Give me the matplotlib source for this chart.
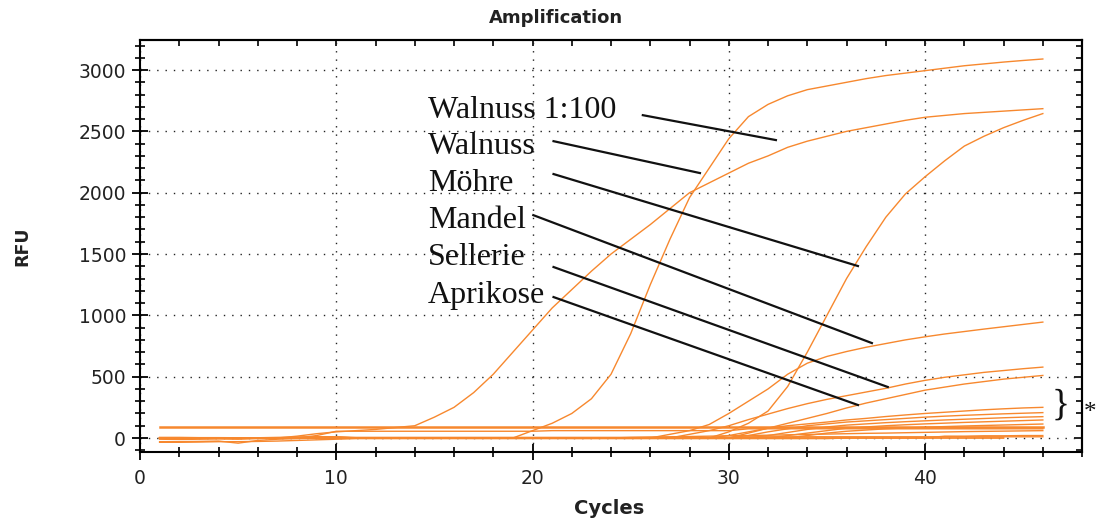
import matplotlib
matplotlib.use('Agg')
import numpy as np
import matplotlib.pyplot as plt
from matplotlib.ticker import MultipleLocator, NullFormatter

cycles = list(range(1, 47))

# amplification curves (RFU per cycle 1..46)
walnuss = [0]*7 + [15, 35, 50, 60, 70, 85, 100, 170, 250, 370, 520, 700, 880, 1060,
                   1210, 1360, 1500, 1620, 1740, 1870, 2000, 2080, 2160, 2240, 2300,
                   2370, 2420, 2460, 2500, 2530, 2560, 2590, 2615, 2630, 2645, 2655,
                   2665, 2675, 2685]
walnuss_1_100 = [0]*19 + [60, 120, 200, 320, 520, 850, 1250, 1620, 1960, 2200, 2440,
                          2620, 2720, 2790, 2840, 2870, 2900, 2930, 2955, 2975, 2995,
                          3015, 3035, 3050, 3065, 3078, 3090]
moehre = [0]*29 + [50, 120, 220, 420, 700, 1000, 1300, 1560, 1800, 1990, 2130, 2260,
                   2380, 2460, 2530, 2590, 2645]
mandel = [0]*26 + [30, 60, 110, 200, 300, 400, 520, 610, 665, 705, 740, 770, 800, 825,
                   848, 868, 888, 907, 926, 945]
sellerie = [0]*27 + [30, 60, 100, 150, 195, 240, 280, 315, 345, 375, 405, 440, 470, 495,
                     515, 535, 550, 565, 578]
aprikose = [0]*30 + [40, 80, 120, 160, 200, 245, 285, 320, 355, 390, 415, 440, 460, 480,
                     495, 510]

# low / negative samples (marked with *)
low1 = [0]*29 + [20, 50, 80, 100, 115, 130, 147, 160, 175, 188, 200, 210, 220, 230, 238,
                 245, 250]
low2 = [0]*30 + [20, 50, 75, 100, 115, 130, 140, 150, 160, 170, 178, 185, 191, 197, 202,
                 207]
low3 = [0]*31 + [20, 45, 70, 90, 105, 115, 125, 133, 140, 147, 153, 159, 165, 170, 174]
low4 = [0]*32 + [20, 40, 60, 80, 90, 100, 108, 115, 121, 127, 132, 137, 142, 147]
low5 = [0]*33 + [20, 40, 55, 65, 75, 82, 88, 93, 98, 102, 106, 110, 114]
flat90 = [90]*46
flat55 = [0]*8 + [20] + [55]*11 + [60]*10 + [75]*16
low6 = [0]*24 + [5, 8, 10, 12, 15, 18, 20, 23, 26, 29, 32, 35, 38, 40, 43, 46, 49, 52,
                 54, 56, 58, 60]
base1 = [-30, -30, -28, -25, -42, -20, -10, -5] + [0]*36 + [np.nan, np.nan]
base2 = [-10, -12, -10, -8, -10, -5, 0, 5, 10, 10] + [5]*20 + [10]*16
base3 = [-35, -35, -33, -30, -30, -28, -25, -20, -15, -10] + [-5]*25 + [0]*9 + [np.nan]*2
base4 = [5, 5, 3, 3, 2, 2, 5, 8, 10, 10] + [0]*30 + [15, 15, 18, 18, 20, 20]

curves = [walnuss, walnuss_1_100, moehre, mandel, sellerie, aprikose,
          low1, low2, low3, low4, low5, flat55, low6, base1, base2, base3, base4]

labels = ["Walnuss 1:100", "Walnuss", "Möhre", "Mandel", "Sellerie", "Aprikose"]
label_y = [2608, 2315, 2013, 1711, 1410, 1100]
label_x = 14.67
pointer_start = [(25.62, 2632), (21.07, 2420), (21.07, 2152), (20.04, 1817),
                 (21.07, 1394), (21.07, 1149)]
pointer_end = [(32.40, 2429), (28.53, 2160), (36.58, 1402), (37.29, 774),
               (38.10, 416), (36.58, 269)]

orange = '#F7882E'

fig = plt.figure(figsize=(10.98, 5.2), dpi=100)
ax = fig.add_axes([0.1275, 0.1308, 0.858, 0.7923])

for c in curves:
    ax.plot(cycles, c, color=orange, lw=1.0, zorder=3)
ax.plot(cycles, flat90, color=orange, lw=1.8, zorder=3)

ax.set_xlim(0, 48)
ax.set_ylim(-114, 3245)
ax.xaxis.set_major_locator(MultipleLocator(10))
ax.xaxis.set_minor_locator(MultipleLocator(2))
ax.yaxis.set_major_locator(MultipleLocator(500))
ax.yaxis.set_minor_locator(MultipleLocator(100))
ax.grid(which='major', color='#222222', linestyle=(0, (1, 5)), linewidth=1.0, zorder=1)

for s in ax.spines.values():
    s.set_linewidth(1.5)
    s.set_color('black')

ax.tick_params(axis='both', which='major', direction='inout', length=12, width=1.3,
               labelsize=13.5, colors='black', labelcolor='#222222')
ax.tick_params(axis='both', which='minor', direction='inout', length=7, width=1.2)
ax.tick_params(axis='y', which='both', pad=4)
ax.tick_params(axis='x', which='both', pad=6)
for lab in ax.get_xticklabels() + ax.get_yticklabels():
    lab.set_family('DejaVu Sans')

secx = ax.secondary_xaxis('top')
secx.xaxis.set_major_locator(MultipleLocator(2))
secx.xaxis.set_major_formatter(NullFormatter())
secx.tick_params(direction='in', length=4, width=1.2)
secx.spines['top'].set_linewidth(1.5)

secy = ax.secondary_yaxis('right')
secy.yaxis.set_major_locator(MultipleLocator(500))
secy.yaxis.set_minor_locator(MultipleLocator(100))
secy.yaxis.set_major_formatter(NullFormatter())
secy.tick_params(which='major', direction='in', length=6, width=1.2)
secy.tick_params(which='minor', direction='in', length=4, width=1.2)
secy.spines['right'].set_linewidth(1.5)

for lab, y, p0, p1 in zip(labels, label_y, pointer_start, pointer_end):
    ax.text(label_x, y, lab, family='Liberation Serif', fontsize=23, color='#111111',
            ha='left', va='baseline', zorder=5)
    ax.plot([p0[0], p1[0]], [p0[1], p1[1]], color='#111111', lw=1.6, zorder=5)

ax.text(46.9, 265, "}", family='Liberation Serif', fontsize=27, color='#111111',
        ha='center', va='center', zorder=5)
fig.text(0.9925, 0.195, "*", family='Liberation Serif', fontsize=18, color='#111111',
         ha='center', va='baseline', zorder=5)

fig.text(0.5065, 0.965, "Amplification", family='DejaVu Sans', fontweight='bold',
         fontsize=13, ha='center', va='center', color='#222222')
fig.text(0.555, 0.023, "Cycles", family='DejaVu Sans', fontweight='bold',
         fontsize=14, ha='center', va='center', color='#222222')
fig.text(0.020, 0.527, "RFU", family='DejaVu Sans', fontweight='bold',
         fontsize=12.5, ha='center', va='center', rotation=90, color='#222222')

fig.savefig('out.png', dpi=100)
